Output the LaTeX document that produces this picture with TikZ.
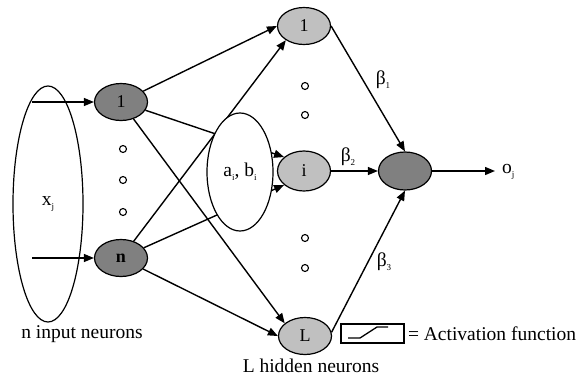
\documentclass[tikz,border=0pt]{standalone}
\usepackage{fontspec}
\setmainfont{Liberation Serif}
\usetikzlibrary{arrows.meta,shapes.geometric}
\definecolor{darkfill}{HTML}{808080}
\definecolor{lightfill}{HTML}{C0C0C0}
% small lowered index, as in x_j or beta_1
\newcommand{\lowidx}[1]{\raisebox{-0.45ex}{\fontsize{9}{10}\selectfont #1}}

\begin{document}
\begin{tikzpicture}[x=1pt,y=-1pt,
  neuron/.style={ellipse, draw, line width=1.2pt, minimum width=53pt,
    minimum height=37pt, inner sep=0pt, font=\fontsize{18}{21}\selectfont},
  inneuron/.style={neuron, fill=darkfill},
  hidneuron/.style={neuron, fill=lightfill},
  group/.style={ellipse, draw, line width=1.2pt, inner sep=0pt},
  edge/.style={line width=1.4pt, -{Triangle[length=10pt,width=8pt]}},
  dot/.style={circle, draw, line width=1.1pt, minimum size=7pt, inner sep=0pt},
  lbl/.style={font=\fontsize{19.5}{23}\selectfont, inner sep=0pt}
]
\useasboundingbox (0,0) rectangle (581,381);

% input vector
\node[group, minimum width=70pt, minimum height=236pt] (xin) at (48,204) {};
\node[lbl] (xlabel) at (48,204) {x\lowidx{j}};

% input layer
\node[inneuron] (in1) at (121,102) {1};
\node[inneuron] (inn) at (121,258) {\textbf{n}};
\node[dot] (d1) at (123,149) {};
\node[dot] (d2) at (123,180) {};
\node[dot] (d3) at (123,212) {};

% hidden layer
\node[hidneuron] (h1) at (304,26) {1};
\node[hidneuron, minimum height=40pt] (hi) at (304,171) {i};
\node[hidneuron] (hL) at (305,336) {L};
\node[dot] (d4) at (305,86) {};
\node[dot] (d5) at (305,115) {};
\node[dot] (d6) at (305,238) {};
\node[dot] (d7) at (305,268) {};

% output neuron
\node[inneuron, minimum height=38pt] (out) at (405,171) {};

% input arrows
\coordinate (s1) at (32,102);
\coordinate (sn) at (32,258);
\coordinate (oend) at (495,171);
\draw[edge] (s1) -- (in1.west);
\draw[edge] (sn) -- (inn.west);

% input to hidden connections
\draw[edge] (in1) -- (h1.west);
\draw[edge] (in1) -- (hi.145);
\draw[edge] (in1) -- (hL.148);
\draw[edge] (inn) -- (h1.218);
\draw[edge] (inn) -- (hi.215);
\draw[edge] (inn) -- (hL.west);

% hidden parameters
\node[group, fill=white, minimum width=66pt, minimum height=118pt] (ab) at (240,172) {};
\node[lbl] (ablabel) at (240,172) {a\lowidx{i}, b\lowidx{i}};

% hidden to output connections
\draw[edge] (h1.east) -- (out.north);
\draw[edge] (hi.east) -- (out.west);
\draw[edge] (hL.8) -- (out.south);
\draw[edge] (out.east) -- (oend);

% weights and output label
\node[lbl] (b1) at (383,80) {β\lowidx{1}};
\node[lbl] (b2) at (348,157) {β\lowidx{2}};
\node[lbl] (b3) at (384,262) {β\lowidx{3}};
\node[lbl, anchor=west] (olabel) at (502,172) {o\lowidx{j}};

% captions
\node[lbl] (incap) at (82,334) {n input neurons};
\node[lbl] (hidcap) at (311,366) {L hidden neurons};

% activation legend
\node[draw, line width=1.2pt, minimum width=63pt, minimum height=19pt, inner sep=0pt] (act) at (372.5,333.5) {};
\draw[line width=1.3pt] (348,338) -- (360,338) -- (377,327) -- (388,327);
\node[lbl, anchor=west] (actlabel) at (act.east) {\,= Activation function};
\end{tikzpicture}
\end{document}
